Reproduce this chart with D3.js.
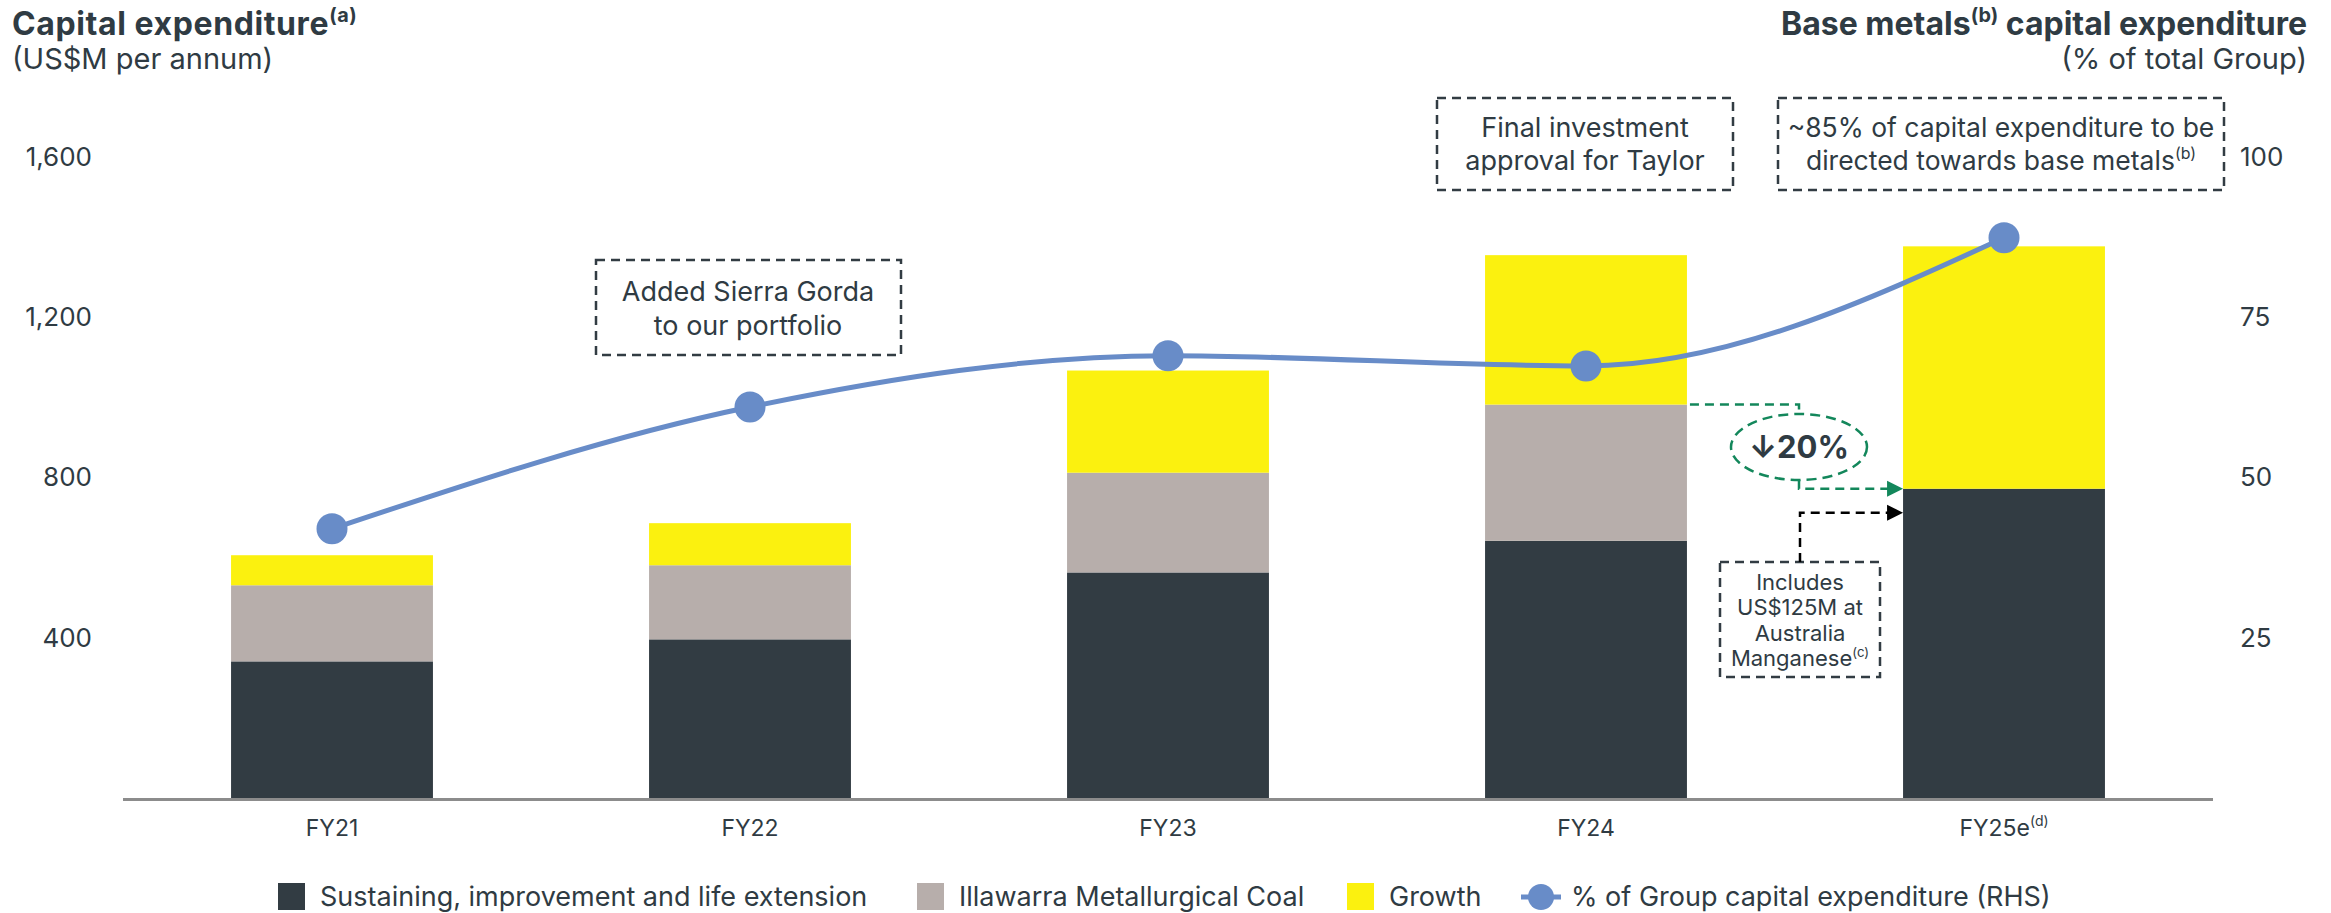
<!DOCTYPE html>
<html><head><meta charset="utf-8">
<script src="https://cdn.jsdelivr.net/npm/d3@7"></script>
<style>
html,body{margin:0;padding:0;background:#fff;}
svg{display:block;font-family:"Inter","Open Sans",sans-serif;}
</style></head>
<body>
<svg id="chart" width="2331" height="913"></svg>
<script>
const years = ["FY21","FY22","FY23","FY24","FY25e"];
const sustaining = [341, 396, 563, 642, 772];
const illawarra = [190, 185, 249, 340, 0];
const growth = [75, 105, 255, 373, 605];
const baseMetalsPct = [42.0, 61.0, 69.0, 67.4, 87.4];
const leftTicks = [400, 800, 1200, 1600];
const rightTicks = [25, 50, 75, 100];
const seriesNames = ["Sustaining, improvement and life extension","Illawarra Metallurgical Coal","Growth"];
const lineName = "% of Group capital expenditure (RHS)";

const C = {dark:"#323c43", grey:"#b7aeab", yellow:"#fbf10f", line:"#688cc8", text:"#2f3b43", green:"#13875b", axis:"#8c8c8c"};

const svg = d3.select("#chart");
const x = d3.scaleBand().domain(years).range([123, 2213]).paddingInner(0.517).paddingOuter(0.2585);
const yL = d3.scaleLinear().domain([0, 1600]).range([798, 157]);
const yR = d3.scaleLinear().domain([0, 100]).range([798, 157]);

// stacked data
const rows = years.map((y,i)=>({year:y, s:sustaining[i], i:illawarra[i], g:growth[i]}));
const stack = d3.stack().keys(["s","i","g"])(rows);
const colors = [C.dark, C.grey, C.yellow];

svg.append("g").selectAll("g").data(stack).join("g")
  .attr("fill",(d,k)=>colors[k])
  .selectAll("rect").data(d=>d).join("rect")
  .attr("x", d=>x(d.data.year))
  .attr("width", x.bandwidth())
  .attr("y", d=>yL(d[1]))
  .attr("height", d=>Math.max(0, yL(d[0])-yL(d[1])));

// baseline
svg.append("line").attr("x1",123).attr("x2",2213).attr("y1",yL(0)+1.5).attr("y2",yL(0)+1.5)
  .attr("stroke",C.axis).attr("stroke-width",3);

// left axis ticks
const gl = svg.append("g").attr("transform","translate(92,0)")
  .call(d3.axisLeft(yL).tickValues(leftTicks).tickSize(0).tickPadding(0).tickFormat(d3.format(",")));
gl.select(".domain").remove();
gl.selectAll("text").attr("fill",C.text).attr("font-size",26).attr("font-family","Inter, sans-serif");

// right axis ticks
const gr = svg.append("g").attr("transform","translate(2240,0)")
  .call(d3.axisRight(yR).tickValues(rightTicks).tickSize(0).tickPadding(0));
gr.select(".domain").remove();
gr.selectAll("text").attr("fill",C.text).attr("font-size",26).attr("font-family","Inter, sans-serif");

// x axis labels
const gx = svg.append("g").attr("transform","translate(0,836)")
  .call(d3.axisBottom(x).tickSize(0).tickPadding(0));
gx.select(".domain").remove();
gx.selectAll("text").attr("fill",C.text).attr("font-size",23).attr("font-family","Inter, sans-serif").attr("dy",0)
  .each(function(d){ if(d==="FY25e"){ const t=d3.select(this); t.text("FY25e"); t.append("tspan").attr("font-size",14).attr("dy",-10).text("(d)"); }});

// line
const pts = years.map((y,i)=>[x(y)+x.bandwidth()/2, yR(baseMetalsPct[i])]);
svg.append("path").attr("d", d3.line().curve(d3.curveMonotoneX)(pts))
  .attr("fill","none").attr("stroke",C.line).attr("stroke-width",5);
svg.append("g").selectAll("circle").data(pts).join("circle")
  .attr("cx",d=>d[0]).attr("cy",d=>d[1]).attr("r",15.5).attr("fill",C.line);

// titles
function sup(t, s, fs){ t.append("tspan").attr("font-size",fs*0.62).attr("dy",-fs*0.4).text(s); }
const TF = 32;
const t1 = svg.append("text").attr("x",12).attr("y",35).attr("fill",C.text).attr("font-size",TF).attr("font-weight",700).attr("letter-spacing",0.6);
t1.append("tspan").text("Capital expenditure"); sup(t1,"(a)",TF);
svg.append("text").attr("x",12).attr("y",69).attr("fill",C.text).attr("font-size",29).text("(US$M per annum)");

const t2 = svg.append("text").attr("x",2307).attr("y",35).attr("fill",C.text).attr("font-size",TF).attr("font-weight",700).attr("text-anchor","end");
t2.append("tspan").text("Base metals"); sup(t2,"(b)",TF); t2.append("tspan").attr("dy",TF*0.4).text(" capital expenditure");
svg.append("text").attr("x",2307).attr("y",69).attr("fill",C.text).attr("font-size",29).attr("text-anchor","end").text("(% of total Group)");

// annotation boxes
function box(x0,y0,w,h){
  svg.append("rect").attr("x",x0).attr("y",y0).attr("width",w).attr("height",h)
    .attr("fill","#fff").attr("stroke",C.dark).attr("stroke-width",2.5).attr("stroke-dasharray","9,6");
}
function lines(cx, ys, arr, fs){
  arr.forEach((l,k)=>{
    const t = svg.append("text").attr("x",cx).attr("y",ys[k]).attr("text-anchor","middle")
      .attr("fill",C.text).attr("font-size",fs);
    if(Array.isArray(l)){ t.append("tspan").text(l[0]); t.append("tspan").attr("font-size",fs*0.6).attr("dy",-fs*0.42).text(l[1]); }
    else t.text(l);
  });
}
box(596,260,305,95);
lines(748,[301,335],["Added Sierra Gorda","to our portfolio"],27);
box(1437,98,296,92);
lines(1585,[137,170],["Final investment","approval for Taylor"],27);
box(1778,98,446,92);
lines(2001,[137,170],["~85% of capital expenditure to be",["directed towards base metals","(b)"]],26.5);
box(1720,562,160,115);
lines(1800,[590,615,641,666],["Includes","US$125M at","Australia",["Manganese","(c)"]],22);

// green reduction annotation
const xr24 = x("FY24")+x.bandwidth();
const x25 = x("FY25e");
const yTop = yL(sustaining[3]+illawarra[3]);
const yBot = yL(sustaining[4]);
const ecx = 1799, ecy = 447;
svg.append("path").attr("d",`M${xr24+3},${yTop}H${ecx}V${ecy-34}`)
  .attr("fill","none").attr("stroke",C.green).attr("stroke-width",2.5).attr("stroke-dasharray","9,6");
svg.append("ellipse").attr("cx",ecx).attr("cy",ecy).attr("rx",68).attr("ry",33)
  .attr("fill","none").attr("stroke",C.green).attr("stroke-width",2.5).attr("stroke-dasharray","10,6");
svg.append("path").attr("d",`M${ecx},${ecy+33}V${yBot}H${x25-15}`)
  .attr("fill","none").attr("stroke",C.green).attr("stroke-width",2.5).attr("stroke-dasharray","9,6");
svg.append("path").attr("d",`M${x25-16},${yBot-8}L${x25},${yBot}L${x25-16},${yBot+8}Z`).attr("fill",C.green);
svg.append("text").attr("x",ecx).attr("y",ecy+11).attr("text-anchor","middle")
  .attr("fill",C.text).attr("font-size",31).attr("font-weight",700).text("↓20%");

// black arrow
const yb = yBot+24;
svg.append("path").attr("d",`M1800,562V${yb}H${x25-15}`)
  .attr("fill","none").attr("stroke","#000").attr("stroke-width",2.5).attr("stroke-dasharray","9,6");
svg.append("path").attr("d",`M${x25-16},${yb-8}L${x25},${yb}L${x25-16},${yb+8}Z`).attr("fill","#000");

// legend
const lg = svg.append("g");
const legendX = [278, 917, 1347];
seriesNames.forEach((n,k)=>{
  lg.append("rect").attr("x",legendX[k]).attr("y",883).attr("width",27).attr("height",27).attr("fill",colors[k]);
  lg.append("text").attr("x",legendX[k]+42).attr("y",906)
    .attr("fill",C.text).attr("font-size",27).text(n);
});
lg.append("line").attr("x1",1521).attr("x2",1561).attr("y1",897).attr("y2",897).attr("stroke",C.line).attr("stroke-width",5);
lg.append("circle").attr("cx",1541).attr("cy",897).attr("r",13).attr("fill",C.line);
lg.append("text").attr("x",1571).attr("y",906)
  .attr("fill",C.text).attr("font-size",27).text(lineName);
</script>
</body></html>
